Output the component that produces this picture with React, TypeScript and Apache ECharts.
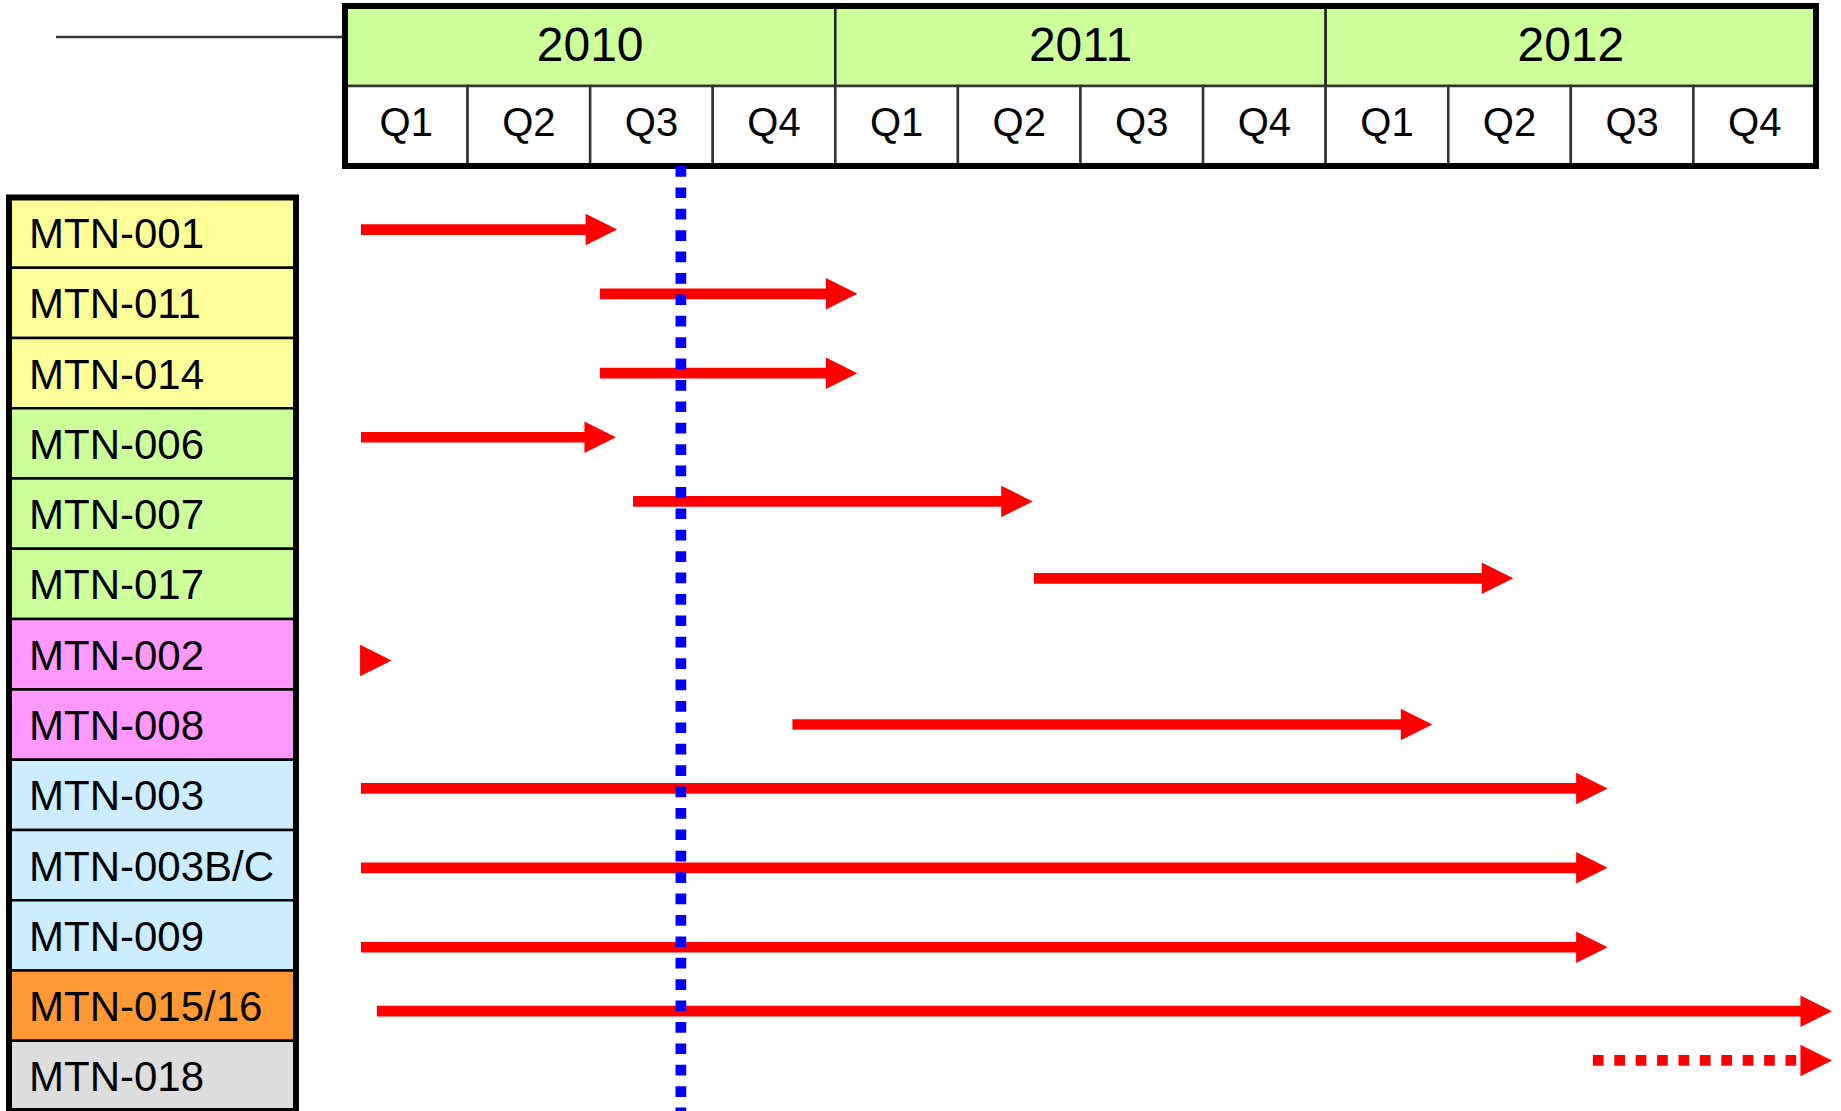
import React, { useEffect, useRef } from 'react';
import * as echarts from 'echarts';

// ---------- data ----------
const projects = [
  'MTN-001', 'MTN-011', 'MTN-014', 'MTN-006', 'MTN-007', 'MTN-017', 'MTN-002',
  'MTN-008', 'MTN-003', 'MTN-003B/C', 'MTN-009', 'MTN-015/16', 'MTN-018',
];
const projectGroup = [
  'yellow', 'yellow', 'yellow', 'green', 'green', 'green', 'pink',
  'pink', 'blue', 'blue', 'blue', 'orange', 'gray',
];
const years = ['2010', '2011', '2012'];
const quarterLabels = ['Q1', 'Q2', 'Q3', 'Q4'];

// timeline in quarters counted from the start of 2010
const arrowStart = [0.13, 2.08, 2.08, 0.13, 2.35, 5.62, 0.13, 3.65, 0.13, 0.13, 0.13, 0.26, 10.18];
const arrowEnd = [2.22, 4.18, 4.18, 2.21, 5.61, 9.53, 0.38, 8.87, 10.3, 10.3, 10.3, 12.13, 12.13];
// vertical position in row units (row i spans i..i+1)
const arrowRow = [0.457, 1.371, 2.5, 3.412, 4.325, 5.419, 6.59, 7.5, 8.41, 9.54, 10.67, 11.58, 12.28];
const arrowDashed = [0, 0, 0, 0, 0, 0, 0, 0, 0, 0, 0, 0, 1];
const currentQuarter = 2.74;

// ---------- styles ----------
const groupColors: Record<string, string> = {
  yellow: '#FFFF99',
  green: '#CCFF99',
  pink: '#FF99FF',
  blue: '#CCECFF',
  orange: '#FF9933',
  gray: '#DDDDDD',
};
const FONT = '"Liberation Sans", Arial, Helvetica, sans-serif';
const RED = '#FF0000';
const LINE_W = 10.7;
const HEAD_LEN = 31.5;
const HEAD_H = 31.5;

const HEADER = { left: 345, top: 6, width: 1471, height: 160 };
const ROWS = { top: 197.5, height: 915.2 };
const LABELS = { left: 9, width: 287 };

export default function App() {
  const ref = useRef<HTMLDivElement>(null);

  useEffect(() => {
    if (!ref.current) return;
    const chart = echarts.init(ref.current, undefined, { renderer: 'svg' });

    const yearData = years.map((_, i) => [i * 4, i * 4 + 4, 0, 1]);
    const quarterData: number[][] = [];
    for (let k = 0; k < years.length * 4; k++) quarterData.push([k, k + 1, 1, 2]);

    const cellRender = (
      fill: string,
      stroke: string,
      fontSize: number,
      dy: number,
      labelOf: (i: number) => string,
    ) =>
      (params: any, api: any) => {
        const p0 = api.coord([api.value(0), api.value(2)]);
        const p1 = api.coord([api.value(1), api.value(3)]);
        return {
          type: 'group',
          children: [
            {
              type: 'rect',
              shape: { x: p0[0], y: p0[1], width: p1[0] - p0[0], height: p1[1] - p0[1] },
              style: { fill, stroke, lineWidth: 2.5 },
            },
            {
              type: 'text',
              style: {
                text: labelOf(params.dataIndex),
                x: (p0[0] + p1[0]) / 2,
                y: (p0[1] + p1[1]) / 2 + dy,
                fill: '#000',
                fontSize,
                fontFamily: FONT,
                align: 'center',
                verticalAlign: 'middle',
              },
            },
          ],
        };
      };

    const option: any = {
      animation: false,
      backgroundColor: '#ffffff',
      grid: [
        { left: HEADER.left, top: HEADER.top, width: HEADER.width, height: HEADER.height },
        { left: LABELS.left, top: ROWS.top, width: LABELS.width, height: ROWS.height },
        { left: HEADER.left, top: ROWS.top, width: HEADER.width, height: ROWS.height },
      ],
      xAxis: [
        { gridIndex: 0, type: 'value', min: 0, max: 12, show: false },
        { gridIndex: 1, type: 'value', min: 0, max: 1, show: false },
        { gridIndex: 2, type: 'value', min: 0, max: 12, show: false },
      ],
      yAxis: [
        { gridIndex: 0, type: 'value', min: 0, max: 2, inverse: true, show: false },
        { gridIndex: 1, type: 'category', data: projects, inverse: true, show: false },
        { gridIndex: 2, type: 'value', min: 0, max: 13, inverse: true, show: false },
      ],
      graphic: [
        {
          type: 'line',
          shape: { x1: 56, y1: 37, x2: HEADER.left, y2: 37 },
          style: { stroke: '#333', lineWidth: 2.5 },
        },
      ],
      series: [
        {
          type: 'custom',
          name: 'years',
          xAxisIndex: 0,
          yAxisIndex: 0,
          data: yearData,
          z: 2,
          renderItem: cellRender('#CCFF99', '#222', 48, -2, (i) => years[i]),
        },
        {
          type: 'custom',
          name: 'quarters',
          xAxisIndex: 0,
          yAxisIndex: 0,
          data: quarterData,
          z: 2,
          renderItem: cellRender('#FFFFFF', '#333', 40, -4, (i) => quarterLabels[i % 4]),
        },
        {
          type: 'custom',
          name: 'headerFrame',
          xAxisIndex: 0,
          yAxisIndex: 0,
          data: [[0, 12, 0, 2]],
          z: 3,
          renderItem: (params: any, api: any) => {
            const p0 = api.coord([api.value(0), api.value(2)]);
            const p1 = api.coord([api.value(1), api.value(3)]);
            return {
              type: 'rect',
              shape: { x: p0[0], y: p0[1], width: p1[0] - p0[0], height: p1[1] - p0[1] },
              style: { fill: 'none', stroke: '#000', lineWidth: 6 },
            };
          },
        },
        {
          type: 'custom',
          name: 'projects',
          xAxisIndex: 1,
          yAxisIndex: 1,
          data: projects.map((_, i) => [0, 1, i]),
          z: 2,
          renderItem: (params: any, api: any) => {
            const i = params.dataIndex;
            const c0 = api.coord([api.value(0), api.value(2)]);
            const c1 = api.coord([api.value(1), api.value(2)]);
            const h = api.size([1, 1])[1];
            return {
              type: 'group',
              children: [
                {
                  type: 'rect',
                  shape: { x: c0[0], y: c0[1] - h / 2, width: c1[0] - c0[0], height: h },
                  style: { fill: groupColors[projectGroup[i]], stroke: '#000', lineWidth: 2.5 },
                },
                {
                  type: 'text',
                  style: {
                    text: projects[i],
                    x: c0[0] + 20,
                    y: c0[1] + 1,
                    fill: '#000',
                    fontSize: 42,
                    fontFamily: FONT,
                    align: 'left',
                    verticalAlign: 'middle',
                  },
                },
              ],
            };
          },
        },
        {
          type: 'custom',
          name: 'projectFrame',
          xAxisIndex: 1,
          yAxisIndex: 1,
          data: [[0]],
          z: 3,
          renderItem: (params: any) => {
            const cs = params.coordSys;
            return {
              type: 'rect',
              shape: { x: cs.x, y: cs.y, width: cs.width, height: cs.height },
              style: { fill: 'none', stroke: '#000', lineWidth: 6 },
            };
          },
        },
        {
          type: 'custom',
          name: 'arrows',
          xAxisIndex: 2,
          yAxisIndex: 2,
          data: arrowStart.map((s, i) => [s, arrowEnd[i], arrowRow[i], arrowDashed[i]]),
          z: 4,
          renderItem: (params: any, api: any) => {
            const p0 = api.coord([api.value(0), api.value(2)]);
            const p1 = api.coord([api.value(1), api.value(2)]);
            const dashed = api.value(3) === 1;
            const y = p0[1];
            const headStart = p1[0] - HEAD_LEN;
            const children: any[] = [];
            if (headStart - p0[0] > 1) {
              if (dashed) {
                children.push({
                  type: 'line',
                  shape: { x1: p0[0], y1: y, x2: headStart, y2: y },
                  style: { stroke: RED, lineWidth: LINE_W, lineDash: [LINE_W, LINE_W], lineCap: 'butt' },
                });
              } else {
                children.push({
                  type: 'rect',
                  shape: { x: p0[0], y: y - LINE_W / 2, width: headStart - p0[0] + 1, height: LINE_W },
                  style: { fill: RED },
                });
              }
            }
            children.push({
              type: 'polygon',
              shape: {
                points: [
                  [headStart, y - HEAD_H / 2],
                  [p1[0], y],
                  [headStart, y + HEAD_H / 2],
                ],
              },
              style: { fill: RED },
            });
            return { type: 'group', children };
          },
        },
        {
          type: 'custom',
          name: 'today',
          xAxisIndex: 0,
          yAxisIndex: 0,
          data: [[currentQuarter, 2]],
          z: 10,
          renderItem: (params: any, api: any) => {
            const p = api.coord([api.value(0), api.value(1)]);
            return {
              type: 'line',
              shape: { x1: p[0], y1: p[1], x2: p[0], y2: api.getHeight() },
              style: { stroke: '#0000FF', lineWidth: LINE_W, lineDash: [LINE_W, LINE_W], lineCap: 'butt' },
            };
          },
        },
      ],
    };

    chart.setOption(option);
    return () => chart.dispose();
  }, []);

  return (
    <div
      ref={ref}
      style={{ position: 'absolute', left: 0, top: 0, width: 1841, height: 1111, background: '#fff' }}
    />
  );
}
